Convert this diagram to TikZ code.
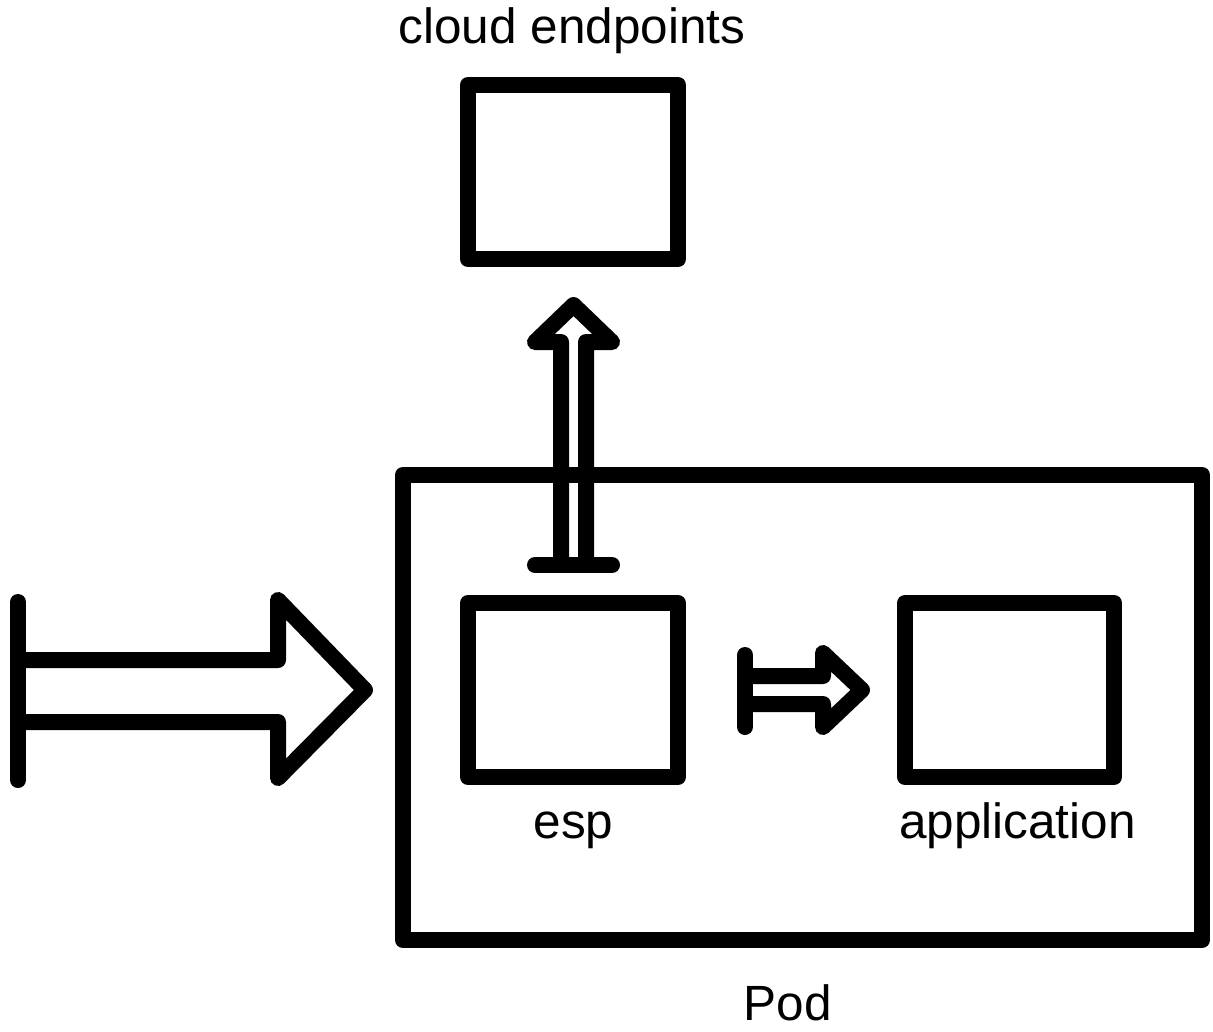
\documentclass[tikz,border=0pt]{standalone}
\usepackage{fontspec}
\setmainfont{Liberation Sans}
\usetikzlibrary{calc}
\begin{document}
\begin{tikzpicture}[x=1pt,y=-1pt,
  stroke/.style={line width=16pt, line join=round, line cap=round},
  box/.style={draw, stroke, inner sep=0pt, outer sep=0pt, minimum width=210pt, minimum height=174pt},
  lbl/.style={font=\fontsize{49.5}{58}\selectfont, anchor=base, inner sep=0pt}]
\useasboundingbox (0,0) rectangle (1213,1031);
% boxes
\node[box, minimum width=799pt, minimum height=465pt] (pod) at (802.5,707.5) {};
\node[box] (cloud) at (573,172) {};
\node[box] (esp) at (573,690) {};
\node[box, minimum width=209pt] (app) at (1009.5,690) {};
% labels
\node[lbl] (cloudlbl) at (572,43) {cloud endpoints};
\node[lbl] (esplbl) at (573.5,838) {esp};
\node[lbl] (applbl) at (1017.5,838) {application};
\node[lbl] (podlbl) at (788,1020) {Pod};
% incoming arrow (free end)
\coordinate (in) at (18,690);
\draw[stroke] ($(in)+(0,-88)$) -- ($(in)+(0,90)$);
\draw[stroke] ($(in)+(0,-30)$) -- ($(in)+(260,-30)$) -- ($(in)+(260,-90)$)
  -- ($(pod.west)+(-38,-17.5)$) -- ($(in)+(260,88)$) -- ($(in)+(260,32)$) -- ($(in)+(0,32)$);
% esp -> cloud endpoints
\draw[stroke] ($(esp.north)+(-38,-38)$) -- ($(esp.north)+(39,-38)$);
\draw[stroke] ($(esp.north)+(-12,-38)$) -- ($(cloud.south)+(-12,83)$) -- ($(cloud.south)+(-38,83)$)
  -- ($(cloud.south)+(0.5,46)$) -- ($(cloud.south)+(39,83)$) -- ($(cloud.south)+(13,83)$) -- ($(esp.north)+(13,-38)$);
% esp -> application
\draw[stroke] ($(esp.east)+(67,-35)$) -- ($(esp.east)+(67,37)$);
\draw[stroke] ($(esp.east)+(67,-14)$) -- ($(esp.east)+(145,-14)$) -- ($(esp.east)+(145,-37)$)
  -- ($(app.west)+(-43,0)$) -- ($(esp.east)+(145,37)$) -- ($(esp.east)+(145,14)$) -- ($(esp.east)+(67,14)$);
\end{tikzpicture}
\end{document}
